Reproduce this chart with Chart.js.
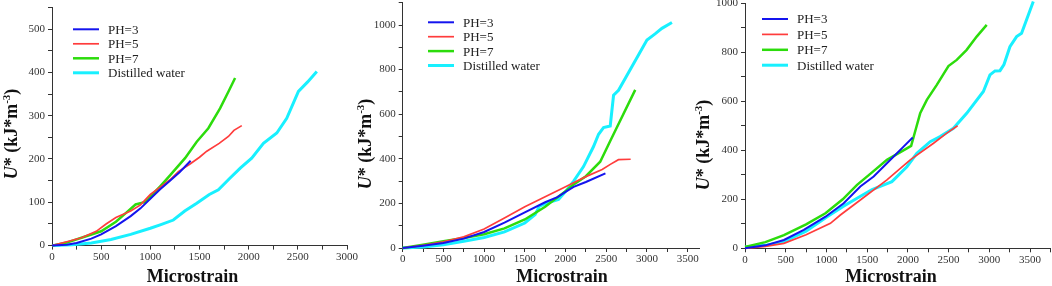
<!DOCTYPE html>
<html>
<head>
<meta charset="utf-8">
<title>Strain energy density vs microstrain</title>
<script src="https://cdn.jsdelivr.net/npm/chart.js"></script>
<style>
  html, body { margin: 0; padding: 0; background: #fff; overflow: hidden; }
  #page { position: relative; width: 1052px; height: 286px; }
  .wrap { position: absolute; top: 0; height: 286px; overflow: hidden; }
  canvas { position: absolute; top: 0; left: 0; }
</style>
</head>
<body>
<div id="page">
  <div class="wrap" style="left:0;width:362px"><canvas id="c1" width="362" height="286"></canvas></div>
  <div class="wrap" style="left:350px;width:350px"><canvas id="c2" width="380" height="286"></canvas></div>
  <div class="wrap" style="left:690px;width:362px"><canvas id="c3" width="380" height="286"></canvas></div>
</div>
<script>
// series names (same in every panel)
const seriesNames = ['PH=3', 'PH=5', 'PH=7', 'Distilled water'];

// panel 1 : [microstrain, U*]
const p1PH3 = [[0,0],[150,2],[250,6],[400,16],[500,26],[650,45],[800,68],[900,86],[1000,108],[1100,130],[1200,150],[1300,170],[1410,196]];
const p1PH5 = [[0,0],[150,9],[300,18],[450,33],[550,50],[650,65],[800,80],[900,94],[1000,118],[1100,135],[1200,152],[1285,171],[1400,188],[1500,204],[1574,218],[1700,236],[1794,252],[1850,266],[1930,277]];
const p1PH7 = [[0,0],[150,7],[300,18],[500,33],[650,55],[750,75],[850,95],[950,101],[1000,113],[1100,137],[1200,162],[1353,202],[1472,240],[1590,271],[1709,317],[1800,358],[1862,387]];
const p1Water = [[0,0],[200,2],[400,6],[600,14],[800,26],[1000,40],[1100,48],[1234,59],[1350,80],[1472,98],[1600,118],[1692,129],[1811,156],[1920,180],[2031,202],[2150,236],[2286,260],[2387,294],[2506,356],[2600,378],[2693,402]];

// panel 2
const p2PH3 = [[0,0],[250,10],[500,22],[750,42],[1000,72],[1250,114],[1500,160],[1750,205],[1900,228],[2000,252],[2100,274],[2250,296],[2490,335]];
const p2PH5 = [[0,0],[250,12],[500,28],[750,50],[1000,85],[1250,135],[1500,185],[1750,230],[2000,275],[2250,320],[2450,352],[2550,375],[2650,396],[2800,398]];
const p2PH7 = [[0,0],[250,15],[500,30],[750,45],[1000,62],[1250,88],[1500,128],[1750,185],[2000,255],[2100,285],[2250,322],[2426,387],[2549,480],[2856,709]];
const p2Water = [[0,0],[250,5],[500,14],[750,30],[1000,47],[1250,72],[1500,112],[1627,150],[1680,188],[1800,205],[1914,218],[2016,260],[2100,300],[2221,365],[2344,455],[2406,510],[2467,540],[2549,547],[2590,685],[2651,707],[3000,933],[3100,960],[3184,985],[3307,1011]];

// panel 3
const p3PH3 = [[0,0],[250,12],[478,34],[722,75],[988,129],[1212,184],[1416,252],[1580,293],[1743,347],[1866,388],[1947,415],[2060,452]];
const p3PH5 = [[0,0],[250,8],[478,20],[750,55],[1049,102],[1171,136],[1416,197],[1743,279],[2029,361],[2315,429],[2478,470],[2610,500]];
const p3PH7 = [[0,5],[250,25],[478,54],[750,98],[988,143],[1200,200],[1376,259],[1560,310],[1743,361],[1988,408],[2040,418],[2100,490],[2151,551],[2233,606],[2355,667],[2498,744],[2600,769],[2722,810],[2845,864],[2968,912]];
const p3Water = [[0,5],[250,12],[478,27],[750,70],[1008,129],[1200,170],[1376,204],[1560,240],[1804,272],[1988,333],[2110,388],[2274,435],[2396,456],[2559,490],[2722,551],[2927,640],[3008,708],[3070,724],[3131,725],[3180,750],[3253,823],[3335,864],[3396,878],[3540,1007]];

const lineColors = ['#1414ee', '#ff3c3c', '#2cdc0c', '#18f0ff'];
const lineWidths = [2, 1.7, 2.5, 3];
const serif = '"Liberation Serif", "Times New Roman", serif';

// legend + axis titles drawn inside the chart
const annotate = {
  id: 'annotate',
  afterDraw(chart, args, o) {
    const ctx = chart.ctx;
    ctx.save();
    // legend
    ctx.font = '13px ' + serif;
    ctx.textBaseline = 'middle';
    ctx.textAlign = 'left';
    chart.data.datasets.forEach((ds, i) => {
      const y = o.legend.y + i * o.legend.dy;
      ctx.strokeStyle = ds.borderColor;
      ctx.lineWidth = ds.borderWidth;
      ctx.beginPath();
      ctx.moveTo(o.legend.x, y);
      ctx.lineTo(o.legend.x + 26, y);
      ctx.stroke();
      ctx.fillStyle = '#222';
      ctx.fillText(ds.label, o.legend.x + 35, y + 1);
    });
    // x title
    ctx.fillStyle = '#111';
    ctx.font = 'bold 18px ' + serif;
    ctx.textAlign = 'center';
    ctx.fillText('Microstrain', o.xTitle[0], o.xTitle[1]);
    // y title, rotated, with superscript
    const parts = [
      {t: 'U', f: 'italic bold 18px ', dy: 0},
      {t: '* (kJ*m', f: 'bold 18px ', dy: 0},
      {t: '-3', f: 'bold 11px ', dy: -7},
      {t: ')', f: 'bold 18px ', dy: 0}
    ];
    let total = 0;
    parts.forEach(p => { ctx.font = p.f + serif; p.w = ctx.measureText(p.t).width; total += p.w; });
    ctx.translate(o.yTitle[0], o.yTitle[1]);
    ctx.rotate(-Math.PI / 2);
    ctx.textAlign = 'left';
    ctx.textBaseline = 'alphabetic';
    let x = -total / 2;
    parts.forEach(p => {
      ctx.font = p.f + serif;
      ctx.fillText(p.t, x, 6 + p.dy);
      x += p.w;
    });
    ctx.restore();
  }
};

function makeChart(id, data, cfg) {
  const zeroPad = s => { s.paddingLeft = 0; s.paddingRight = 0; s.paddingTop = 0; s.paddingBottom = 0; };
  const tickFont = {family: serif, size: 11};
  return new Chart(document.getElementById(id), {
    type: 'line',
    data: {
      datasets: data.map((arr, i) => ({
        label: seriesNames[i],
        data: arr.map(p => ({x: p[0], y: p[1]})),
        borderColor: lineColors[i],
        borderWidth: lineWidths[i],
        pointRadius: 0,
        tension: 0,
        fill: false,
        clip: false
      }))
    },
    options: {
      responsive: false,
      animation: false,
      events: [],
      layout: {padding: cfg.padding},
      plugins: {
        legend: {display: false},
        tooltip: {enabled: false},
        annotate: cfg.notes
      },
      scales: {
        x: {
          type: 'linear', min: 0, max: cfg.xMax,
          border: {color: '#333', width: 1},
          grid: {drawOnChartArea: false, tickLength: 4, tickColor: '#333'},
          ticks: {stepSize: 250, autoSkip: false, maxRotation: 0, padding: 1, color: '#333', font: tickFont,
                  callback: v => v % 500 === 0 ? v : ''},
          afterFit: s => { s.height = cfg.xAxisH; zeroPad(s); }
        },
        y: {
          type: 'linear', min: 0, max: cfg.yMax,
          border: {color: '#333', width: 1},
          grid: {drawOnChartArea: false, tickLength: 4, tickColor: '#333'},
          ticks: {stepSize: cfg.yStep, autoSkip: false, padding: 3, color: '#333', font: tickFont,
                  callback: v => v % (cfg.yStep * 2) === 0 ? v : ''},
          afterFit: s => { s.width = cfg.yAxisW; zeroPad(s); }
        }
      }
    },
    plugins: [annotate]
  });
}

makeChart('c1', [p1PH3, p1PH5, p1PH7, p1Water], {
  xMax: 3000, yMax: 550, yStep: 50,
  padding: {left: 0, top: 7.4, right: 15, bottom: 0},
  yAxisW: 52, xAxisH: 40.4,
  notes: {legend: {x: 73, y: 29.3, dy: 14.5}, xTitle: [192.5, 277], yTitle: [11, 134]}
});

makeChart('c2', [p2PH3, p2PH5, p2PH7, p2Water], {
  xMax: 3750, yMax: 1100, yStep: 100,
  padding: {left: 0, top: 2.7, right: 22, bottom: 0},
  yAxisW: 52.7, xAxisH: 38,
  notes: {legend: {x: 78, y: 22.3, dy: 14.4}, xTitle: [212, 277], yTitle: [15, 144]}
});

makeChart('c3', [p3PH3, p3PH5, p3PH7, p3Water], {
  xMax: 3750, yMax: 1000, yStep: 100,
  padding: {left: 0, top: 3.3, right: 19.6, bottom: 0},
  yAxisW: 55, xAxisH: 37.7,
  notes: {legend: {x: 72, y: 19, dy: 15.4}, xTitle: [201, 277], yTitle: [13, 145]}
});
</script>
</body>
</html>
